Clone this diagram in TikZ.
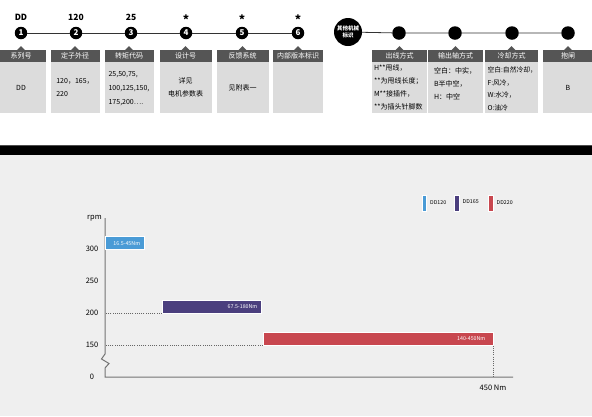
\documentclass[tikz,border=0pt]{standalone}
\usepackage{fontspec}
\setmainfont{Noto Sans CJK SC}
\usepackage{xcolor}
\usetikzlibrary{positioning,calc}

\definecolor{hdgray}{HTML}{555555}
\definecolor{bodygray}{HTML}{DCDCDC}
\definecolor{chartbg}{HTML}{EFEFEF}
\definecolor{ddblue}{HTML}{4A9BD6}
\definecolor{ddpurple}{HTML}{4B3F7E}
\definecolor{ddred}{HTML}{C8474F}

\begin{document}
\begin{tikzpicture}[
        x=1pt, y=-1pt,
        font=\fontsize{7}{13}\selectfont,
        numdot/.style={
            circle, fill=black, text=white,
            inner sep=0pt, minimum size=12.5pt,
            font=\fontsize{8}{8}\selectfont\bfseries
        },
        bigdot/.style={
            circle, fill=black, text=white,
            inner sep=0pt, minimum size=28pt, align=center,
            font=\fontsize{5.5}{6.5}\selectfont\bfseries
        },
        plaindot/.style={circle, fill=black, inner sep=0pt, minimum size=13.5pt},
        toplabel/.style={font=\fontsize{8.5}{9}\selectfont\bfseries},
        starlabel/.style={font=\fontsize{12}{12}\selectfont\bfseries},
        hdbox/.style={
            fill=hdgray, text=white,
            minimum height=11.5pt, inner sep=0pt,
            font=\fontsize{7}{7}\selectfont
        },
        bodybox/.style={fill=bodygray, minimum height=51pt, inner sep=0pt, align=center},
        bodytxt/.style={inner sep=0pt, align=left, anchor=north west},
        linkline/.style={draw=black!80, line width=0.8pt},
        axis/.style={draw=black!55, line width=1pt},
        guide/.style={draw=black!60, line width=0.7pt, dash pattern=on 1pt off 1.2pt},
        tick/.style={font=\fontsize{7.5}{7.5}\selectfont},
        bar/.style={
            draw=white, line width=0.8pt, text=white,
            minimum height=13pt, inner xsep=0pt, inner ysep=0pt,
            anchor=south west, font=\fontsize{5.3}{5.3}\selectfont
        },
        legbar/.style={draw=white, line width=0.5pt, minimum width=4.5pt, minimum height=16pt, inner sep=0pt},
        legtxt/.style={inner sep=0pt, font=\fontsize{5.3}{5.3}\selectfont}
    ]
    \useasboundingbox (0,0) rectangle (592,416);

    % Backgrounds
    \fill[white] (0,0) rectangle (592,145);
    \fill[black] (0,145) rectangle (592,155);
    \draw[black!70, line width=0.6pt] (0,145) -- (592,145) (0,155) -- (592,155);
    \fill[chartbg] (0,155.3) rectangle (592,416);

    % Code positions
    \node[numdot] (c1) at (21,33) {1};
    \node[numdot] (c2) at (76,33) {2};
    \node[numdot] (c3) at (131,33) {3};
    \node[numdot] (c4) at (186,33) {4};
    \node[numdot] (c5) at (242,33) {5};
    \node[numdot] (c6) at (298,33) {6};
    \node[bigdot] (other) at (348,32) {其他机械\\标识};
    \node[plaindot] (r1) at (399,33) {};
    \node[plaindot] (r2) at (455,33) {};
    \node[plaindot] (r3) at (512,33) {};
    \node[plaindot] (r4) at (568,33) {};

    \draw[linkline] (c1) -- (c2) -- (c3) -- (c4) -- (c5) -- (c6);
    \draw[linkline] (other) -- (r1) -- (r2) -- (r3) -- (r4);

    \node[toplabel] (v1) at (21,17) {DD};
    \node[toplabel] (v2) at (76,17) {120};
    \node[toplabel] (v3) at (131,17) {25};
    \node[starlabel] (v4) at (186,20) {*};
    \node[starlabel] (v5) at (242,20) {*};
    \node[starlabel] (v6) at (298,20) {*};

    % Headers
    \node[hdbox, minimum width=49pt] (h1) at (21,56) {系列号};
    \node[hdbox, minimum width=49pt] (h2) at (75,56) {定子外径};
    \node[hdbox, minimum width=49pt] (h3) at (129,56) {转矩代码};
    \node[hdbox, minimum width=52pt] (h4) at (185.5,56) {设计号};
    \node[hdbox, minimum width=52pt] (h5) at (242.5,56) {反馈系统};
    \node[hdbox, minimum width=50pt] (h6) at (298,56) {内部版本标识};
    \node[hdbox, minimum width=55pt] (ha) at (399.5,56) {出线方式};
    \node[hdbox, minimum width=55pt] (hb) at (455.5,56) {输出轴方式};
    \node[hdbox, minimum width=53pt] (hc) at (511.5,56) {冷却方式};
    \node[hdbox, minimum width=50pt] (hd) at (568,56) {抱闸};

    \foreach \h in {h1,h2,h3,h4,h5,h6,ha,hb,hc,hd}
        \fill[hdgray] ($(\h.north)+(-4,0.2)$) -- ($(\h.north)+(0,-4)$) -- ($(\h.north)+(4,0.2)$) -- cycle;

    % Bodies
    \node[bodybox, minimum width=49pt, below=0pt of h1] (b1) {DD};
    \node[bodybox, minimum width=49pt, below=0pt of h2] (b2) {\begin{tabular}{@{}l@{}}120，165，\\220\end{tabular}};
    \node[bodybox, minimum width=49pt, below=0pt of h3] (b3) {\begin{tabular}{@{}l@{}}25,50,75,\\[1pt]100,125,150,\\[1pt]175,200….\end{tabular}};
    \node[bodybox, minimum width=52pt, below=0pt of h4] (b4) {详见\\电机参数表};
    \node[bodybox, minimum width=52pt, below=0pt of h5] (b5) {见附表一};
    \node[bodybox, minimum width=50pt, below=0pt of h6] (b6) {};
    \node[bodybox, minimum width=55pt, below=0pt of ha] (ba) {};
    \node[bodybox, minimum width=55pt, below=0pt of hb] (bb) {};
    \node[bodybox, minimum width=53pt, below=0pt of hc] (bc) {};
    \node[bodybox, minimum width=50pt, below=0pt of hd] (bd) {B};

    \node[bodytxt] (ta) at ($(ba.north west)+(2,2)$) {H**甩线，\\**为甩线长度；\\M**接插件，\\**为插头针脚数};
    \node[bodytxt] (tb) at ($(bb.north west)+(6,5)$) {空白：中实，\\B半中空，\\H：中空};
    \node[bodytxt, font=\fontsize{6.8}{12.5}\selectfont] (tc) at ($(bc.north west)+(2.5,5)$) {空白:自然冷却，\\F:风冷，\\W:水冷，\\O:油冷};

    % Chart axes
    \coordinate (o) at (105,377);
    \coordinate (ytop) at (105,218);
    \coordinate (xend) at (513,377);
    \draw[axis] (ytop) -- (105,354) -- (101.5,359) -- (109,363.5) -- (105,368) -- (o) -- (xend);

    \node[tick] (rpm) at (94.5,218) {rpm};
    \foreach \v/\yy in {300/249,250/281,200/313,150/345,0/377}
        \node[tick] (y\v) at (92,\yy) {\v};
    \node[tick, font=\fontsize{7.5}{7.5}\selectfont] (xmax) at (493,387.5) {450 Nm};

    % Bars
    \node[bar, fill=ddblue, minimum width=39pt, text width=39pt, align=left] (bar120) at (105,250)
        {\hspace*{8pt}16.5-45Nm};
    \node[bar, fill=ddpurple, minimum width=99pt, text width=99pt, align=right] (bar165) at (162,313.5)
        {67.5-180Nm\hspace*{4pt}};
    \node[bar, fill=ddred, minimum width=230pt, text width=230pt, align=right] (bar220) at (263,345.5)
        {140-450Nm\hspace*{8pt}};

    \draw[guide] (bar165.south west) -- (ytop |- bar165.south west);
    \draw[guide] (bar220.south west) -- (ytop |- bar220.south west);
    \draw[guide] (bar220.south east) -- (bar220.south east |- o);

    % Legend
    \node[legbar, fill=ddblue] (k120) at (424,203) {};
    \node[legtxt, right=3.5pt of k120] (l120) {DD120};
    \node[legbar, fill=ddpurple] (k165) at (456.5,203) {};
    \node[legtxt, right=3.5pt of k165, yshift=1.5pt] (l165) {DD165};
    \node[legbar, fill=ddred] (k220) at (490.5,203) {};
    \node[legtxt, right=3.5pt of k220] (l220) {DD220};

\end{tikzpicture}
\end{document}
